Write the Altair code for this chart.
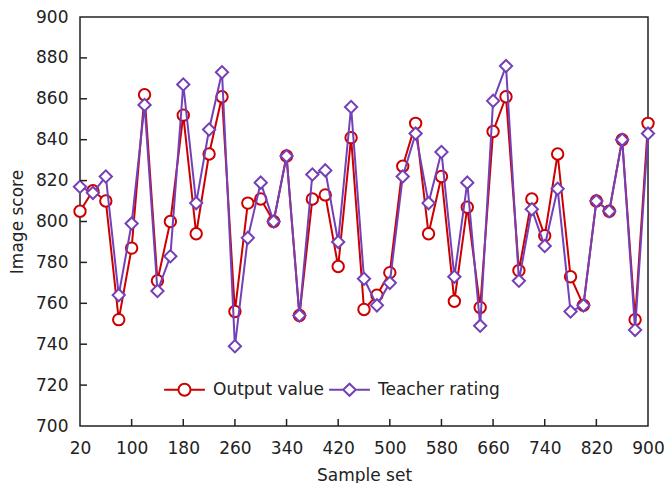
import altair as alt
import pandas as pd

# Sample set positions
samples = list(range(20, 901, 20))

output_value = [805, 815, 810, 752, 787, 862, 771, 800, 852, 794,
                833, 861, 756, 809, 811, 800, 832, 754, 811, 813,
                778, 841, 757, 764, 775, 827, 848, 794, 822, 761,
                807, 758, 844, 861, 776, 811, 793, 833, 773, 759,
                810, 805, 840, 752, 848]

teacher_rating = [817, 814, 822, 764, 799, 857, 766, 783, 867, 809,
                  845, 873, 739, 792, 819, 800, 832, 754, 823, 825,
                  790, 856, 772, 759, 770, 822, 843, 809, 834, 773,
                  819, 749, 859, 876, 771, 806, 788, 816, 756, 759,
                  810, 805, 840, 747, 843]

series_names = ["Output value", "Teacher rating"]
series_colors = ["#CC0000", "#7440B8"]

x_ticks = list(range(20, 901, 80))
y_ticks = list(range(700, 901, 20))

df_out = pd.DataFrame({"x": samples, "y": output_value, "series": series_names[0]})
df_tea = pd.DataFrame({"x": samples, "y": teacher_rating, "series": series_names[1]})
df_all = pd.concat([df_out, df_tea], ignore_index=True)
df_xt = pd.DataFrame({"x": x_ticks[1:-1]})
df_yt = pd.DataFrame({"y": y_ticks[1:-1]})

FONT = "DejaVu Sans"
TXT = "#222222"
FS = 17

xs = alt.Scale(domain=[20, 900], nice=False, zero=False)
ys = alt.Scale(domain=[700, 900], nice=False, zero=False)

X = alt.X("x:Q", scale=xs, axis=alt.Axis(values=x_ticks, title="Sample set", tickSize=0,
                                         labelPadding=14, domain=False, grid=False,
                                         titlePadding=11, labelFlush=False))
Y = alt.Y("y:Q", scale=ys, axis=alt.Axis(values=y_ticks, title="Image score", tickSize=0,
                                         labelPadding=12, domain=False, grid=False,
                                         titlePadding=9))


def series_layers(df, color, shape, size):
    line = alt.Chart(df).mark_line(color=color, strokeWidth=2).encode(x=X, y=Y)
    pts = alt.Chart(df).mark_point(shape=shape, size=size, filled=True, fill="white",
                                   stroke=color, strokeWidth=2, opacity=1).encode(x=X, y=Y)
    return [line, pts]


legend_paths = [
    "M-3.4,0L-1,0M1,0L3.4,0M1,0A1,1,0,1,1,-1,0A1,1,0,1,1,1,0Z",
    "M-3.4,0L-1.05,0M1.05,0L3.4,0M-1.05,0L0,-1L1.05,0L0,1Z",
]

legend_kw = dict(title=None, orient="none", direction="horizontal",
                 legendX=96, legendY=364, labelOffset=20,
                 columnPadding=1, symbolSize=144,
                 symbolStrokeWidth=2, symbolFillColor="white",
                 labelFontSize=FS, labelFont=FONT, labelColor=TXT,
                 padding=0)

legend_layer = alt.Chart(df_all).transform_filter("false").mark_point(
    filled=True, fill="white", strokeWidth=2, size=144, opacity=1
).encode(
    stroke=alt.Stroke("series:N", scale=alt.Scale(domain=series_names, range=series_colors),
                      legend=alt.Legend(**legend_kw)),
    shape=alt.Shape("series:N", scale=alt.Scale(domain=series_names, range=legend_paths),
                    legend=alt.Legend(**legend_kw)),
)

xtick_layer = alt.Chart(df_xt).mark_rule(color="#222222", strokeWidth=1.5).encode(
    x=alt.X("x:Q", scale=xs), y=alt.value(409), y2=alt.value(402)
)
ytick_layer = alt.Chart(df_yt).mark_rule(color="#222222", strokeWidth=1.5).encode(
    y=alt.Y("y:Q", scale=ys), x=alt.value(0), x2=alt.value(7)
)

layers = (series_layers(df_out, series_colors[0], "circle", 130)
          + series_layers(df_tea, series_colors[1], "diamond", 150)
          + [xtick_layer, ytick_layer, legend_layer])

chart = alt.layer(*layers).properties(
    width=568, height=409,
    autosize=alt.AutoSizeParams(type="none"),
    padding={"left": 72, "top": 9, "right": 16, "bottom": 57},
    background="white",
).configure_view(
    stroke="#222222", strokeWidth=1.5
).configure_axis(
    labelFont=FONT, titleFont=FONT, labelFontSize=FS, titleFontSize=FS,
    labelColor=TXT, titleColor=TXT, titleFontWeight="normal"
)

chart.save("out.html", embed_options={"renderer": "svg", "actions": False})
